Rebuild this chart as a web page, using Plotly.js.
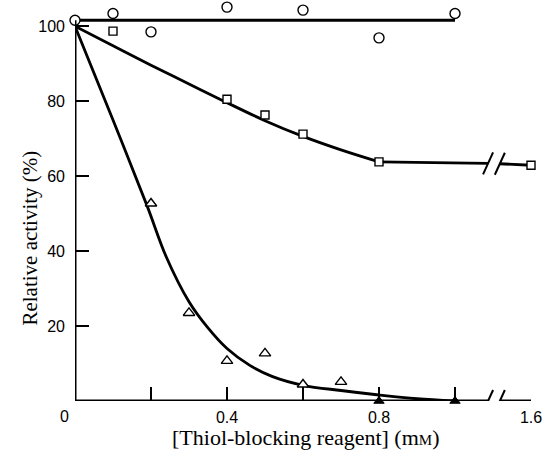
<!DOCTYPE html>
<html>
<head>
<meta charset="utf-8">
<script src="https://cdn.plot.ly/plotly-3.0.1.min.js"></script>
<style>html,body{margin:0;padding:0;background:#fff;}#chart{width:544px;height:450px;}</style>
</head>
<body>
<div id="chart"></div>
<script>
// ---- data (x in mM; values beyond the axis break are drawn at the break position) ----
var circleX = [0, 0.1, 0.2, 0.4, 0.6, 0.8, 1.0];
var circleY = [101.6, 103.4, 98.5, 105.1, 104.3, 96.9, 103.4];
var circleFitX = [0, 1.0];
var circleFitY = [101.6, 101.6];

var squareX = [0.1, 0.4, 0.5, 0.6, 0.8, 1.6];
var squareY = [98.7, 80.5, 76.3, 71.2, 63.8, 62.9];
var squareFitX = [0, 0.1, 0.2, 0.3, 0.4, 0.5, 0.6, 0.7, 0.8];
var squareFitY = [100, 94.8, 89.6, 84.6, 79.6, 74.8, 70.6, 67.0, 63.8];
var squareFlatX = [0.8, 1.087];
var squareFlatY = [63.8, 63.4];
var squareTailX = [1.118, 1.6];
var squareTailY = [63.3, 62.9];

var triX = [0.2, 0.3, 0.4, 0.5, 0.6, 0.7];
var triY = [52.7, 23.5, 10.7, 12.7, 4.4, 5.1];
var triFilledX = [0.8, 1.0];
var triFilledY = [0, 0];
var triFitX = [0, 0.1, 0.19, 0.24, 0.3, 0.35, 0.4, 0.46, 0.52, 0.6, 0.7, 0.8, 0.9, 1.0];
var triFitY = [100, 75, 52, 38.5, 26.5, 19.5, 14, 9.5, 6.5, 4.2, 2.8, 1.6, 0.6, 0];

var xTickVals = [0.2, 0.4, 0.6, 0.8, 1.0, 1.6];
var xTickText = ['', '0.4', '', '0.8', '', '1.6'];
var yTickVals = [20, 40, 60, 80, 100];

// ---- axis break: real values above 1.0 are drawn at 1.2 ----
var BREAK_FROM = 1.6, BREAK_POS = 1.2;
function pos(v) { return v >= BREAK_FROM ? BREAK_POS : v; }
function mapX(a) { return a.map(pos); }
var breakL = 1.087, breakR = 1.118;

var black = '#000';
var LW = 2.8;
var traces = [
  {x: mapX(circleFitX), y: circleFitY, mode: 'lines', line: {color: black, width: LW}, hoverinfo: 'skip'},
  {x: mapX(squareFitX), y: squareFitY, mode: 'lines', line: {color: black, width: LW, shape: 'spline'}, hoverinfo: 'skip'},
  {x: mapX(squareFlatX), y: squareFlatY, mode: 'lines', line: {color: black, width: LW}, hoverinfo: 'skip'},
  {x: mapX(squareTailX), y: squareTailY, mode: 'lines', line: {color: black, width: LW}, hoverinfo: 'skip'},
  {x: mapX(triFitX), y: triFitY, mode: 'lines', line: {color: black, width: LW, shape: 'spline'}, hoverinfo: 'skip'},
  {x: mapX(circleX), y: circleY, mode: 'markers', cliponaxis: false,
   marker: {symbol: 'circle', size: 10, color: '#fff', line: {color: black, width: 1.4}}},
  {x: mapX(squareX), y: squareY, mode: 'markers', cliponaxis: false,
   marker: {symbol: 'square', size: 8, color: '#fff', line: {color: black, width: 1.4}}},
  {x: mapX(triX), y: triY, mode: 'markers', cliponaxis: false,
   marker: {symbol: 'triangle-up', size: 10, color: '#fff', line: {color: black, width: 1.4}}},
  {x: mapX(triFilledX), y: triFilledY, mode: 'markers', cliponaxis: false,
   marker: {symbol: 'triangle-up', size: 9, color: black, line: {color: black, width: 1}}}
];

function slash(xc, yc) {
  return {type: 'line', xref: 'x', yref: 'y', xsizemode: 'pixel', ysizemode: 'pixel',
    xanchor: xc, yanchor: yc, x0: -5, x1: 5, y0: -11, y1: 11,
    line: {color: black, width: 2}};
}

var shapes = [
  {type: 'line', xref: 'x', yref: 'y', x0: 0, x1: 0, y0: 0, y1: 101.6, line: {color: black, width: 3}},
  {type: 'line', xref: 'x', yref: 'y', x0: 0, x1: breakL, y0: 0, y1: 0, line: {color: black, width: 3}},
  {type: 'line', xref: 'x', yref: 'y', x0: breakR, x1: BREAK_POS, y0: 0, y1: 0, line: {color: black, width: 3}},
  slash(breakL, 0), slash(breakR, 0),
  slash(breakL, 63.4), slash(breakR, 63.3)
];

var tickFont = {family: 'Liberation Sans, Arial, sans-serif', size: 16, color: black};
var titleFont = {family: 'Liberation Serif, Times New Roman, serif', size: 21, color: black};

var layout = {
  width: 544, height: 450,
  margin: {l: 75, r: 13, t: 0, b: 49},
  paper_bgcolor: '#fff', plot_bgcolor: '#fff',
  showlegend: false,
  xaxis: {
    range: [0, 1.2], showgrid: false, zeroline: false, showline: false,
    tickmode: 'array', tickvals: mapX(xTickVals), ticktext: xTickText,
    ticks: 'inside', ticklen: 14, tickwidth: 2, tickcolor: black,
    ticklabelstandoff: 5,
    tickfont: tickFont
  },
  yaxis: {
    range: [0, 107], showgrid: false, zeroline: false, showline: false,
    tickmode: 'array', tickvals: yTickVals,
    ticks: 'inside', ticklen: 14, tickwidth: 2, tickcolor: black,
    ticklabelstandoff: 9,
    tickfont: tickFont
  },
  shapes: shapes,
  annotations: [
    {text: '0', xref: 'x', yref: 'y', x: 0, y: 0, xshift: -11, yshift: -15, showarrow: false,
     xanchor: 'center', yanchor: 'middle', font: tickFont},
    {text: '[Thiol-blocking reagent] (m<span style="font-size:15px">M</span>)', xref: 'paper', yref: 'paper',
     x: 0.5, y: -0.09, xshift: 2, showarrow: false, xanchor: 'center', yanchor: 'middle',
     font: {family: titleFont.family, size: 22, color: black}},
    {text: 'Relative activity (%)', xref: 'paper', yref: 'paper', x: 0, y: 0.405, xshift: -45,
     textangle: -90, showarrow: false, xanchor: 'center', yanchor: 'middle', font: titleFont}
  ]
};

Plotly.newPlot('chart', traces, layout, {displayModeBar: false, staticPlot: true});
</script>
</body>
</html>
